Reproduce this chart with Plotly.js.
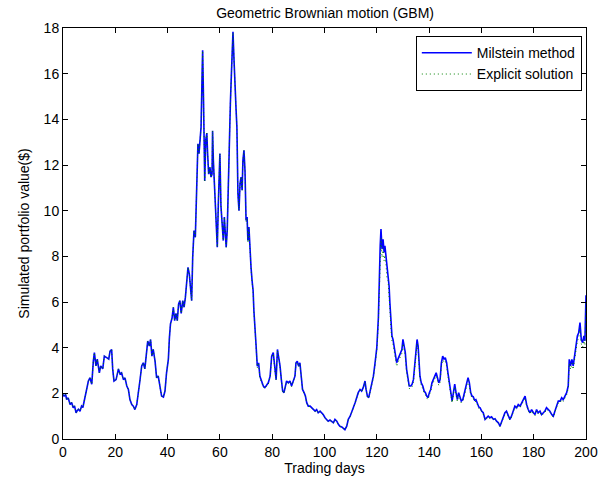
<!DOCTYPE html>
<html>
<head>
<meta charset="utf-8">
<script src="https://cdn.plot.ly/plotly-3.0.1.min.js"></script>
<style>html,body{margin:0;padding:0;background:#fff;}#chart{width:611px;height:488px;}</style>
</head>
<body>
<div id="chart"></div>
<script>
// Trading days (x)
var days = [
0.0,0.4,1.0,1.4,2.0,2.7,3.3,3.9,4.4,5.0,5.5,5.9,6.5,7.1,7.6,8.0,8.8,9.3,9.7,10.3,
11.0,11.6,12.0,12.6,13.1,13.9,14.4,15.2,15.8,16.7,17.5,18.0,18.6,19.0,19.5,20.3,21.2,21.8,22.4,23.1,
23.7,24.4,25.0,25.6,26.3,26.9,27.5,28.2,28.8,29.4,30.1,30.7,31.3,31.9,32.4,33.0,33.5,34.0,34.5,35.2,
35.8,36.4,37.1,37.7,38.4,39.0,39.6,40.3,40.7,41.1,41.7,42.2,42.7,43.2,43.7,44.2,44.7,45.2,45.8,46.3,
46.8,47.3,47.8,48.3,48.8,49.2,49.6,50.1,50.6,51.1,51.6,52.0,52.4,52.8,53.2,53.4,53.7,53.9,54.2,54.6,
55.0,55.3,55.7,56.2,56.6,57.0,57.2,57.5,57.9,58.3,58.6,59.0,59.4,59.8,60.0,60.4,60.9,61.3,61.7,62.1,
62.4,62.8,63.2,63.6,64.0,64.4,64.7,65.0,65.4,65.8,66.2,66.5,66.9,67.3,67.7,68.1,68.5,68.8,69.2,69.6,
70.0,70.4,70.7,71.1,71.5,71.9,72.3,72.7,73.0,73.4,73.8,74.3,74.8,75.3,76.0,76.6,77.2,77.9,78.5,79.2,
79.8,80.4,80.9,81.5,82.0,82.5,83.0,83.5,84.0,84.5,85.0,85.5,86.2,86.8,87.4,88.1,88.7,89.1,89.6,90.1,
90.6,91.1,91.6,92.2,92.7,93.2,93.8,94.5,95.1,95.7,96.4,97.0,97.6,98.3,98.9,99.5,100.2,100.8,101.4,102.1,
102.7,103.4,104.0,104.7,105.3,105.9,106.6,107.2,107.8,108.5,109.1,109.8,110.4,111.0,111.7,112.3,112.9,113.6,114.2,114.8,
115.5,115.9,116.4,116.9,117.4,118.0,118.7,119.3,120.0,120.6,121.0,121.3,121.6,122.0,122.4,122.8,123.1,123.5,123.9,124.3,
124.7,125.0,125.4,125.8,126.2,126.6,127.1,127.6,128.1,128.6,129.1,129.6,130.0,130.4,130.9,131.4,131.9,132.4,133.0,133.5,
134.0,134.5,135.0,135.4,135.8,136.1,136.5,137.0,137.6,138.1,138.6,139.1,139.6,140.1,140.6,141.1,141.6,142.2,142.7,143.2,
143.7,144.2,144.7,145.2,145.7,146.2,146.7,147.2,147.7,148.3,148.8,149.3,149.8,150.3,150.8,151.3,151.8,152.3,152.9,153.4,
153.9,154.4,154.9,155.4,155.9,156.4,156.9,157.4,157.9,158.4,159.0,159.5,160.1,160.7,161.4,162.0,162.6,163.3,163.9,164.6,
165.2,165.8,166.5,167.1,167.7,168.4,169.0,169.6,170.3,170.9,171.5,172.2,172.8,173.5,174.1,174.8,175.4,176.0,176.7,177.3,
177.9,178.6,179.2,179.9,180.5,181.1,181.7,182.4,183.0,183.7,184.3,184.9,185.6,186.2,186.9,187.5,188.1,188.8,189.4,190.1,
190.7,191.3,192.0,192.6,193.2,193.6,194.1,194.6,195.1,195.7,196.2,196.7,197.2,197.7,198.2,198.7,199.2,199.6,200.0
];
// Milstein method values ($)
var milstein = [
1.95,1.88,1.95,1.73,1.80,1.51,1.60,1.37,1.45,1.15,1.25,1.30,1.22,1.44,1.38,1.59,2.03,2.20,2.54,2.68,
2.40,3.41,3.78,3.20,3.50,2.90,3.20,3.07,3.63,3.56,3.50,3.85,3.92,3.07,2.54,2.60,3.07,2.85,2.90,2.60,
2.68,2.32,2.17,1.73,1.51,1.44,1.29,1.51,1.95,2.54,3.20,3.34,3.07,3.63,4.29,4.07,4.36,3.63,3.92,3.41,
2.68,2.76,2.17,1.88,1.84,2.10,2.90,3.50,4.45,5.04,5.30,5.77,5.18,5.50,5.18,5.91,6.06,5.50,6.06,5.77,
6.20,6.79,7.52,7.23,6.64,6.06,7.96,9.13,8.84,11.60,12.93,12.50,13.37,13.66,16.00,17.03,15.10,12.50,11.30,13.10,
13.40,12.50,11.60,11.90,11.47,11.60,13.50,12.20,11.03,10.45,9.28,8.40,10.30,12.05,12.50,10.20,9.28,8.69,9.72,8.84,
8.40,9.13,11.03,13.80,14.68,16.00,16.88,17.83,16.60,15.10,14.40,13.66,10.74,10.00,11.20,11.47,10.90,12.20,12.64,11.75,
9.57,9.72,8.69,9.28,7.96,7.52,6.94,6.50,5.62,4.60,4.16,3.19,3.34,2.75,2.46,2.32,2.25,2.40,2.46,2.75,
3.63,3.78,3.19,2.60,3.92,3.63,3.19,2.60,2.10,2.03,2.32,2.54,2.46,2.54,2.32,2.54,2.75,3.34,3.41,3.19,
3.34,2.75,2.17,2.03,1.88,1.59,1.44,1.44,1.37,1.29,1.22,1.29,1.15,1.22,1.15,1.07,0.93,0.86,0.78,0.83,
0.78,0.71,0.86,0.78,0.64,0.56,0.53,0.45,0.41,0.56,0.86,1.00,1.15,1.37,1.59,1.88,2.03,2.17,2.10,2.25,
2.54,2.17,1.88,1.81,2.05,2.40,2.75,3.30,4.00,5.30,7.50,8.46,9.19,8.31,8.75,8.17,8.46,8.02,7.43,7.30,
6.70,5.97,5.10,4.51,4.36,4.00,3.78,3.34,3.50,3.63,3.78,3.92,4.36,4.07,3.78,3.05,2.60,2.32,2.32,2.40,
2.60,3.20,3.92,4.36,4.07,3.50,2.75,2.46,2.32,2.10,2.03,1.88,1.81,2.03,2.17,2.46,2.60,2.75,2.90,2.68,
2.46,2.60,3.34,3.63,3.50,3.56,3.34,2.90,2.46,2.03,1.66,2.03,2.40,2.03,1.73,2.03,1.88,1.66,1.73,2.03,
2.17,2.46,2.68,2.46,2.03,1.88,1.85,1.70,1.73,1.59,1.40,1.37,1.22,1.15,0.86,0.93,1.00,0.93,0.97,0.86,
0.89,0.78,0.71,0.56,0.78,0.93,1.15,1.22,1.00,0.86,1.00,1.22,1.44,1.37,1.51,1.44,1.59,1.73,1.88,1.51,
1.29,1.15,1.29,1.15,1.07,1.29,1.15,1.22,1.07,1.15,1.22,1.37,1.29,1.22,1.07,1.00,1.22,1.51,1.66,1.66,
1.81,1.73,1.88,2.03,2.32,3.49,3.20,3.49,3.20,3.78,4.07,4.51,4.65,5.10,4.36,4.22,4.51,4.30,6.30
];
// Explicit solution values ($)
var explicitSol = [
1.95,1.88,1.95,1.73,1.80,1.51,1.60,1.37,1.45,1.15,1.25,1.30,1.22,1.44,1.38,1.59,2.03,2.20,2.54,2.68,
2.40,3.41,3.78,3.20,3.50,2.90,3.20,3.07,3.63,3.56,3.50,3.85,3.92,3.07,2.54,2.60,3.07,2.85,2.90,2.60,
2.68,2.32,2.17,1.73,1.51,1.44,1.29,1.51,1.95,2.54,3.20,3.34,3.07,3.63,4.29,4.07,4.36,3.63,3.92,3.41,
2.68,2.76,2.17,1.88,1.84,2.10,2.90,3.50,4.45,5.04,5.30,5.77,5.18,5.50,5.18,5.91,6.06,5.50,6.06,5.77,
6.20,6.79,7.52,7.23,6.64,6.06,7.96,9.13,8.84,11.60,12.93,12.50,13.37,13.66,16.00,17.00,15.10,12.50,11.30,13.10,
13.40,12.50,11.60,11.90,11.47,11.60,13.50,12.20,11.03,10.45,9.28,8.40,10.30,12.05,12.50,10.20,9.28,8.69,9.72,8.84,
8.40,9.13,11.03,13.80,14.68,16.00,16.88,17.80,16.60,15.10,14.40,13.66,10.74,10.00,11.20,11.47,10.90,12.20,12.64,11.75,
9.50,9.65,8.60,9.20,7.90,7.45,6.88,6.42,5.55,4.55,4.10,3.12,3.28,2.68,2.40,2.27,2.20,2.35,2.40,2.70,
3.58,3.73,3.15,2.57,3.88,3.60,3.15,2.57,2.07,2.00,2.29,2.50,2.43,2.50,2.29,2.50,2.72,3.30,3.37,3.15,
3.30,2.72,2.14,2.00,1.86,1.57,1.42,1.42,1.35,1.27,1.20,1.27,1.13,1.20,1.13,1.05,0.92,0.85,0.77,0.82,
0.77,0.70,0.85,0.77,0.63,0.55,0.52,0.44,0.40,0.55,0.85,0.98,1.13,1.35,1.57,1.85,2.00,2.14,2.07,2.22,
2.50,2.13,1.85,1.78,2.00,2.35,2.68,3.20,3.85,5.05,7.10,8.05,8.80,7.95,8.35,7.80,8.05,7.65,7.05,6.95,
6.35,5.70,4.85,4.30,4.15,3.82,3.62,3.18,3.35,3.48,3.62,3.76,4.18,3.90,3.62,2.92,2.48,2.21,2.21,2.29,
2.48,3.06,3.76,4.18,3.90,3.35,2.63,2.35,2.21,2.00,1.94,1.79,1.72,1.94,2.07,2.35,2.48,2.63,2.77,2.56,
2.35,2.48,3.19,3.47,3.35,3.40,3.19,2.77,2.35,1.94,1.58,1.94,2.29,1.94,1.65,1.94,1.79,1.58,1.65,1.94,
2.07,2.35,2.56,2.35,1.94,1.79,1.77,1.62,1.65,1.52,1.34,1.31,1.17,1.10,0.82,0.89,0.96,0.89,0.93,0.82,
0.85,0.75,0.68,0.54,0.75,0.89,1.10,1.17,0.96,0.82,0.96,1.17,1.38,1.31,1.44,1.38,1.52,1.65,1.80,1.44,
1.23,1.10,1.23,1.10,1.02,1.23,1.10,1.17,1.02,1.10,1.17,1.31,1.23,1.17,1.02,0.96,1.17,1.44,1.58,1.58,
1.73,1.65,1.80,1.94,2.22,3.30,3.04,3.32,3.05,3.60,3.88,4.30,4.43,4.86,4.16,4.02,4.30,4.10,6.05
];
var xTicks = [0,20,40,60,80,100,120,140,160,180,200];
var yTicks = [0,2,4,6,8,10,12,14,16,18];

var fontFam = '"Liberation Sans", Arial, Helvetica, sans-serif';
var traces = [
  {x: days, y: milstein, type: 'scatter', mode: 'lines', name: 'Milstein method',
   line: {color: '#0000ff', width: 1.6}},
  {x: days, y: explicitSol, type: 'scatter', mode: 'lines', name: 'Explicit solution',
   line: {color: '#008000', width: 1, dash: '1px,3px'}}
];
var axisCommon = {
  showline: true, linecolor: '#000', linewidth: 1, mirror: 'ticks',
  ticks: 'inside', ticklen: 5, tickcolor: '#000', tickwidth: 1,
  showgrid: false, zeroline: false, automargin: false,
  tickfont: {family: fontFam, size: 14, color: '#000'}
};
var layout = {
  width: 611, height: 488,
  paper_bgcolor: '#fff', plot_bgcolor: '#fff',
  margin: {l: 63, r: 25, t: 28, b: 49, pad: 0},
  showlegend: true,
  title: {text: 'Geometric Brownian motion (GBM)', font: {family: fontFam, size: 14, color: '#000'},
          x: 0.532, xanchor: 'center', y: 0.974, yanchor: 'middle'},
  xaxis: Object.assign({}, axisCommon, {
    range: [0, 200], tickmode: 'array', tickvals: xTicks, ticktext: xTicks.map(String),
    title: {text: 'Trading days', font: {family: fontFam, size: 14, color: '#000'}, standoff: 4}
  }),
  yaxis: Object.assign({}, axisCommon, {
    range: [0, 18], tickmode: 'array', tickvals: yTicks, ticktext: yTicks.map(String),
    title: {text: 'Simulated portfolio value($)', font: {family: fontFam, size: 14, color: '#000'}, standoff: 10}
  }),
  legend: {x: 0.992, xanchor: 'right', y: 0.98, yanchor: 'top',
           bgcolor: '#fff', bordercolor: '#000', borderwidth: 1, itemwidth: 50,
           font: {family: fontFam, size: 14, color: '#000'}, tracegroupgap: 0}
};
Plotly.newPlot('chart', traces, layout, {displayModeBar: false, staticPlot: true});
</script>
</body>
</html>
